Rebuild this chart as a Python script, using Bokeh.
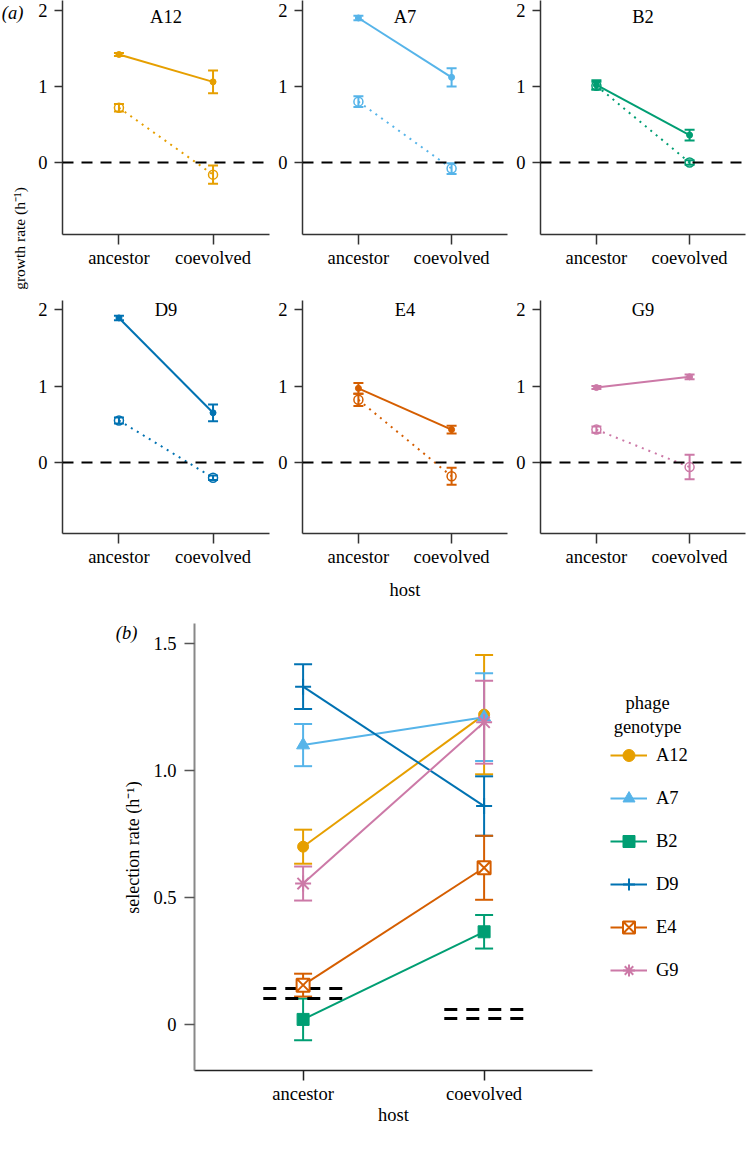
import math
from bokeh.plotting import figure
from bokeh.layouts import row, column
from bokeh.models import (Range1d, FixedTicker, Whisker, TeeHead, ColumnDataSource,
                          Span, Label, Legend, LegendItem, CustomJSTickFormatter)
from bokeh.core.properties import value
from bokeh.embed import file_html
from bokeh.resources import INLINE

# ---------------- data ----------------
hosts = ["ancestor", "coevolved"]
host_x = [1, 2]
genotypes = ["A12", "A7", "B2", "D9", "E4", "G9"]
colors = ["#E69F00", "#56B4E9", "#009E73", "#0072B2", "#D55E00", "#CC79A7"]

# (a) growth rate (h^-1): filled symbols / solid line
growth_filled_anc = [1.42, 1.90, 1.02, 1.89, 0.97, 0.98]
growth_filled_anc_err = [0.02, 0.03, 0.06, 0.03, 0.07, 0.02]
growth_filled_coe = [1.06, 1.12, 0.36, 0.65, 0.43, 1.12]
growth_filled_coe_err = [0.15, 0.12, 0.07, 0.11, 0.05, 0.03]
# (a) growth rate: open symbols / dotted line
growth_open_anc = [0.72, 0.80, 1.01, 0.55, 0.82, 0.43]
growth_open_anc_err = [0.05, 0.07, 0.05, 0.04, 0.08, 0.04]
growth_open_coe = [-0.16, -0.08, 0.00, -0.20, -0.18, -0.06]
growth_open_coe_err = [0.12, 0.07, 0.03, 0.03, 0.11, 0.16]
growth_ticks = [0, 1, 2]

# (b) selection rate (h^-1)
sel_anc = [0.70, 1.10, 0.02, 1.33, 0.155, 0.555]
sel_anc_err = [0.067, 0.083, 0.082, 0.088, 0.045, 0.067]
sel_coe = [1.22, 1.21, 0.365, 0.86, 0.617, 1.19]
sel_coe_err = [0.235, 0.173, 0.066, 0.117, 0.126, 0.163]
sel_ticks = [0, 0.5, 1.0, 1.5]
markers = ["circle", "triangle", "square", "cross", "square_x", "asterisk"]

# dashed reference levels in (b)
ref_host = [1, 1, 2, 2]
ref_level = [0.142, 0.102, 0.059, 0.024]

FONT = "Liberation Serif"
FS = "18.5px"
INK = "black"
mid_x = sum(host_x) / len(host_x)


def style_common(p):
    p.outline_line_color = None
    p.grid.visible = False
    p.axis.minor_tick_line_color = None
    p.axis.major_tick_in = 0
    p.axis.major_label_text_font = FONT
    p.axis.major_label_text_font_size = FS
    p.axis.major_label_text_color = INK
    p.axis.axis_label_text_font = FONT
    p.axis.axis_label_text_font_size = FS
    p.axis.axis_label_text_font_style = "normal"
    p.axis.axis_label_text_color = INK
    p.xaxis.ticker = FixedTicker(ticks=host_x)
    p.xaxis.major_label_overrides = {x: h for x, h in zip(host_x, hosts)}


def text_strip(width, height, bt=0, bb=0):
    fh = height - bt - bb
    s = figure(width=width, height=height, x_range=Range1d(0, width),
               y_range=Range1d(fh, 0), x_axis_type=None, y_axis_type=None,
               output_backend="svg", toolbar_location=None, min_border_left=0,
               min_border_right=0, min_border_top=bt, min_border_bottom=bb)
    s.outline_line_color = None
    s.grid.visible = False
    return s


def label(text, x, y, size=FS, style="normal", angle=0):
    return Label(x=x, y=y, text=text, text_font=FONT, text_font_size=size,
                 text_font_style=style, text_color=INK, angle=angle,
                 text_align="center", text_baseline="middle")


def growth_panel(i, width, height, bl, br, bt, bb, y0, y1, title_y):
    c = colors[i]
    p = figure(width=width, height=height, x_range=Range1d(0.4, 2.6),
               y_range=Range1d(y0, y1), output_backend="svg", toolbar_location=None,
               min_border_left=bl, min_border_right=br, min_border_top=bt,
               min_border_bottom=bb)
    style_common(p)
    p.yaxis.ticker = FixedTicker(ticks=growth_ticks)
    p.axis.axis_line_color = "#333333"
    p.axis.axis_line_width = 1.5
    p.axis.major_tick_line_color = "#333333"
    p.axis.major_tick_line_width = 1.5
    p.xaxis.major_tick_out = 10
    p.yaxis.major_tick_out = 8
    p.yaxis.major_label_standoff = 7
    p.xaxis.major_label_standoff = 3

    p.add_layout(Span(location=0, dimension="width", line_color="black",
                      line_width=2, line_dash="11 8"))

    series = [
        (growth_open_anc, growth_open_anc_err, growth_open_coe, growth_open_coe_err, False),
        (growth_filled_anc, growth_filled_anc_err, growth_filled_coe, growth_filled_coe_err, True),
    ]
    for anc, anc_e, coe, coe_e, filled in series:
        ys = [anc[i], coe[i]]
        es = [anc_e[i], coe_e[i]]
        src = ColumnDataSource(dict(x=host_x, y=ys,
                                    lower=[y - e for y, e in zip(ys, es)],
                                    upper=[y + e for y, e in zip(ys, es)]))
        p.line("x", "y", source=src, line_color=c, line_width=2,
               line_dash="solid" if filled else "2 5")
        p.add_layout(Whisker(base="x", upper="upper", lower="lower", source=src,
                             dimension="height", line_color=c, line_width=2,
                             upper_head=TeeHead(size=10, line_color=c, line_width=2),
                             lower_head=TeeHead(size=10, line_color=c, line_width=2)))
        if filled:
            p.scatter("x", "y", source=src, marker="circle", size=6,
                      fill_color=c, line_color=c)
        else:
            p.scatter("x", "y", source=src, marker="circle", size=9,
                      fill_color=None, line_color=c, line_width=1.5)

    p.text(x=[mid_x], y=[title_y], text=[genotypes[i]], text_font=value(FONT),
           text_font_size=FS, text_align="center", text_baseline="middle",
           text_color=INK)
    return p


# ---------------- (a) ----------------
r1 = dict(height=292, bt=0, bb=58, y0=-0.947, y1=2.13, title_y=1.91)
r2 = dict(height=316, bt=8, bb=75, y0=-0.928, y1=2.118, title_y=1.99)
cols = [dict(width=241, bl=28, br=6), dict(width=238, bl=25, br=6), dict(width=233, bl=25, br=1)]

figs_r1 = [growth_panel(k, cols[k]["width"], r1["height"], cols[k]["bl"], cols[k]["br"],
                        r1["bt"], r1["bb"], r1["y0"], r1["y1"], r1["title_y"]) for k in range(3)]
figs_r2 = [growth_panel(3 + k, cols[k]["width"], r2["height"], cols[k]["bl"], cols[k]["br"],
                        r2["bt"], r2["bb"], r2["y0"], r2["y1"], r2["title_y"]) for k in range(3)]
figs_r2[1].xaxis.axis_label = "host"
figs_r2[1].xaxis.axis_label_standoff = 10

strip_a = text_strip(34, r1["height"] + r2["height"])
strip_a.add_layout(label("(a)", 12, 12, style="italic"))
strip_a.add_layout(label("growth rate (h\u207b\u00b9)", 19, 238, size="15.5px",
                         angle=math.pi / 2))

top = row(strip_a, column(row(*figs_r1), row(*figs_r2)))

# ---------------- (b) ----------------
pb_h, pb_bt, pb_bb = 498, 15, 36
pb = figure(width=604, height=pb_h, x_range=Range1d(0.4, 3.4497),
            y_range=Range1d(-0.1811, 1.5787), output_backend="svg",
            toolbar_location=None, min_border_left=52, min_border_right=0,
            min_border_top=pb_bt, min_border_bottom=pb_bb)
style_common(pb)
pb.xaxis.bounds = (0.4, 2.6)
pb.yaxis.ticker = FixedTicker(ticks=sel_ticks)
pb.yaxis.formatter = CustomJSTickFormatter(code="return tick == 0 ? '0' : tick.toFixed(1);")
pb.yaxis.axis_line_color = "#888888"
pb.yaxis.axis_line_width = 2
pb.yaxis.major_tick_line_color = "#555555"
pb.yaxis.major_tick_line_width = 1.5
pb.xaxis.axis_line_color = "#222222"
pb.xaxis.axis_line_width = 1.5
pb.xaxis.major_tick_line_color = "#222222"
pb.xaxis.major_tick_line_width = 1.5
pb.axis.major_tick_out = 10
pb.yaxis.major_label_standoff = 8
pb.xaxis.major_label_standoff = 3

half = 0.22
pb.segment(x0=[x - half for x in ref_host], y0=ref_level,
           x1=[x + half for x in ref_host], y1=ref_level,
           line_color="black", line_width=3, line_dash="13 9")

marker_size = {"circle": 11, "triangle": 13, "square": 12, "cross": 16,
               "square_x": 13, "asterisk": 16}
items = []
for i, g in enumerate(genotypes):
    c = colors[i]
    ys = [sel_anc[i], sel_coe[i]]
    es = [sel_anc_err[i], sel_coe_err[i]]
    src = ColumnDataSource(dict(x=host_x, y=ys,
                                lower=[y - e for y, e in zip(ys, es)],
                                upper=[y + e for y, e in zip(ys, es)]))
    lr = pb.line("x", "y", source=src, line_color=c, line_width=2)
    pb.add_layout(Whisker(base="x", upper="upper", lower="lower", source=src,
                          dimension="height", line_color=c, line_width=2,
                          upper_head=TeeHead(size=18, line_color=c, line_width=2),
                          lower_head=TeeHead(size=18, line_color=c, line_width=2)))
    m = markers[i]
    if m == "square_x":
        sr = pb.scatter("x", "y", source=src, marker=m, size=marker_size[m],
                        fill_color="white", line_color=c, line_width=2)
    elif m in ("cross", "asterisk"):
        sr = pb.scatter("x", "y", source=src, marker=m, size=marker_size[m],
                        line_color=c, line_width=2)
    else:
        sr = pb.scatter("x", "y", source=src, marker=m, size=marker_size[m],
                        fill_color=c, line_color=c)
    items.append(LegendItem(label=g, renderers=[lr, sr]))

legend = Legend(items=items, location=(416, 85), orientation="vertical",
                glyph_width=37, glyph_height=30, label_height=30, spacing=13,
                padding=0, margin=0, border_line_color=None, background_fill_alpha=0,
                label_text_font=FONT, label_text_font_size=FS, label_text_color=INK,
                label_standoff=9)
pb.add_layout(legend)
pb.add_layout(label("phage\ngenotype", 2.903, 1.217))

# strip left of (b): its frame coincides with pb's frame (rows align frames)
strip_b = text_strip(142, pb_h, bt=pb_bt, bb=pb_bb)
strip_b.add_layout(label("(b)", 126, 9, style="italic"))
strip_b.add_layout(label("selection rate (h\u207b\u00b9)", 132, 224, size="18px",
                         angle=math.pi / 2))

host_strip = text_strip(746, 30)
host_strip.add_layout(label("host", 393, 8))

layout = column(top, row(strip_b, pb), host_strip)
open("out.html", "w").write(file_html(layout, INLINE))
